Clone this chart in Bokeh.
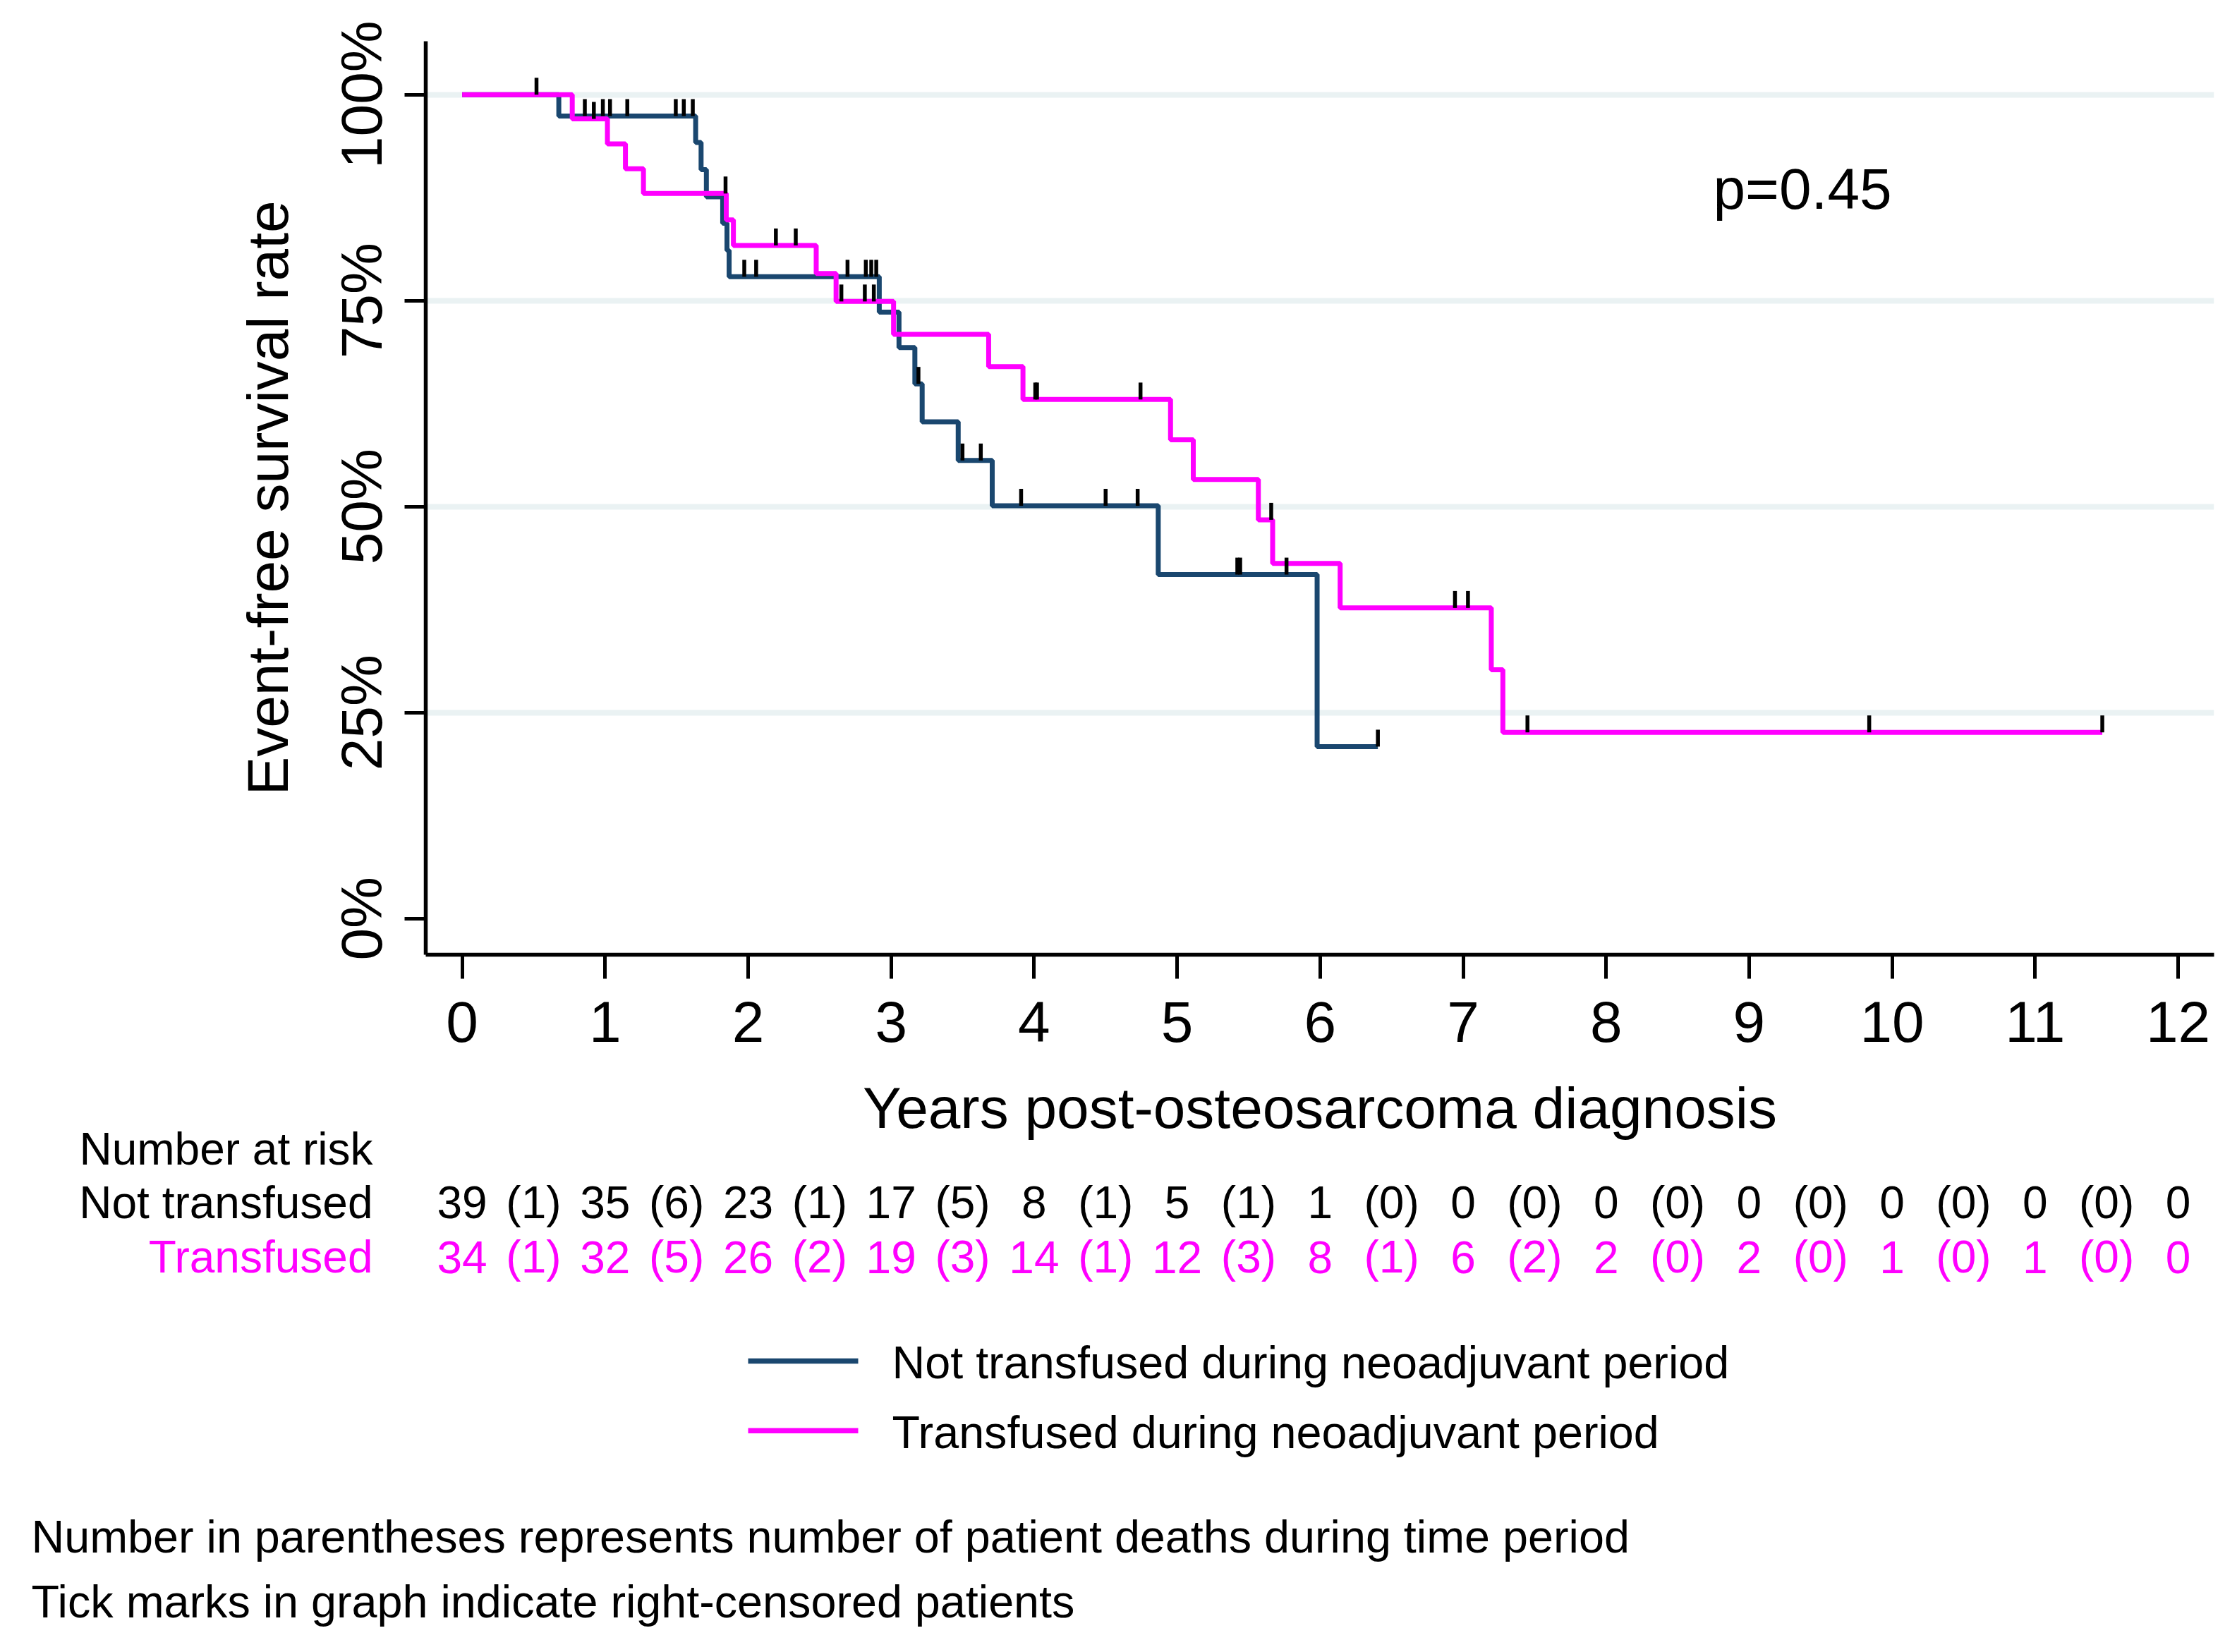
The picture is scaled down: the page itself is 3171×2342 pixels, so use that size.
from bokeh.plotting import figure
from bokeh.models import Range1d, FixedTicker, NumeralTickFormatter
from bokeh.core.properties import value
from bokeh.embed import file_html
from bokeh.resources import INLINE

# ---------------- data ----------------
years = list(range(13))
half_years = [i + 0.5 for i in range(12)]

not_tx_at_risk = [39, 35, 23, 17, 8, 5, 1, 0, 0, 0, 0, 0, 0]
not_tx_deaths = [1, 6, 1, 5, 1, 1, 0, 0, 0, 0, 0, 0]
tx_at_risk = [34, 32, 26, 19, 14, 12, 8, 6, 2, 2, 1, 1, 0]
tx_deaths = [1, 5, 2, 3, 1, 3, 1, 2, 0, 0, 0, 0]

not_tx_time = [0, 0.676, 1.633, 1.671, 1.708, 1.822, 1.852, 1.867, 2.917, 3.055,
               3.166, 3.217, 3.469, 3.707, 4.868, 5.979, 6.404]
not_tx_surv = [1.0, 0.974, 0.942, 0.909, 0.876, 0.844, 0.811, 0.779, 0.736, 0.693,
               0.649, 0.603, 0.556, 0.501, 0.4175, 0.2087, 0.2087]

tx_time = [0, 0.770, 1.016, 1.142, 1.268, 1.847, 1.897, 2.476, 2.615, 3.017,
           3.682, 3.922, 4.954, 5.113, 5.568, 5.668, 6.140, 7.197, 7.278, 11.47]
tx_surv = [1.0, 0.9706, 0.9403, 0.910, 0.880, 0.848, 0.817, 0.783, 0.749, 0.709,
           0.670, 0.630, 0.581, 0.533, 0.484, 0.431, 0.377, 0.302, 0.226, 0.226]

not_tx_cens_time = [0.52, 0.858, 0.984, 1.034, 1.155, 1.494, 1.550, 1.613,
                    1.973, 2.056, 2.695, 2.823, 2.861, 2.896, 3.191, 3.499, 3.627,
                    3.909, 4.500, 4.724, 5.421, 5.441, 5.765, 6.404]
not_tx_cens_surv = [1.0, 0.974, 0.974, 0.974, 0.974, 0.974, 0.974, 0.974,
                    0.779, 0.779, 0.779, 0.779, 0.779, 0.779, 0.649, 0.556, 0.556,
                    0.501, 0.501, 0.501, 0.4175, 0.4175, 0.4175, 0.2087]

tx_cens_time = [0.921, 1.842, 2.194, 2.333, 2.652, 2.816, 2.879, 4.008, 4.020,
                4.744, 5.658, 6.943, 7.034, 7.450, 9.84, 11.47]
tx_cens_surv = [0.9706, 0.880, 0.817, 0.817, 0.749, 0.749, 0.749, 0.630, 0.630,
                0.630, 0.484, 0.377, 0.377, 0.226, 0.226, 0.226]

y_ticks = [0, 0.25, 0.5, 0.75, 1.0]
grid_ticks = [0.25, 0.5, 0.75, 1.0]
p_value_text = "p=0.45"
x_title = "Years post-osteosarcoma diagnosis"
y_title = "Event-free survival rate"

series_labels = ["Not transfused", "Transfused"]
legend_labels = ["Not transfused during neoadjuvant period",
                 "Transfused during neoadjuvant period"]
notes = ["Number in parentheses represents number of patient deaths during time period",
         "Tick marks in graph indicate right-censored patients"]

# ---------------- styles / layout (page pixels) ----------------
NAVY = "#1A476F"
MAGENTA = "#FF00FF"
GRID = "#EAF2F3"
FONT = value("Liberation Sans")
W = 3160
H1 = 1525
H2 = 805
X0_PX = 654.6        # page px of year 0
PPY = 202.7          # px per year
FRAME_L, FRAME_R = 603, 3138
Y_LO, Y_HI = -0.0439, 1.0648
FRAME_T, FRAME_B = 58, 1353
MID = 0.35           # baseline -> text middle, in em


def px2yr(px):
    return (px - X0_PX) / PPY


def py2s(py):
    return 1 - (py - 133.7) / 1168.0


p = figure(width=W, height=H1, output_backend="svg", toolbar_location=None, title=None,
           x_range=Range1d(px2yr(FRAME_L), px2yr(FRAME_R)),
           y_range=Range1d(Y_LO, Y_HI),
           min_border_left=FRAME_L, min_border_right=W - FRAME_R,
           min_border_top=FRAME_T, min_border_bottom=H1 - FRAME_B)
p.outline_line_color = None
p.background_fill_color = "white"
p.border_fill_color = "white"

# grid
p.xgrid.grid_line_color = None
p.ygrid.ticker = FixedTicker(ticks=grid_ticks)
p.ygrid.grid_line_color = GRID
p.ygrid.grid_line_width = 8

# axes
for ax in (p.xaxis, p.yaxis):
    ax.axis_line_width = 5.5
    ax.axis_line_color = "black"
    ax.major_tick_line_width = 5
    ax.major_tick_line_color = "black"
    ax.major_tick_in = 0
    ax.minor_tick_line_color = None
    ax.major_label_text_font = "Liberation Sans"
    ax.major_label_text_font_size = "82px"
    ax.major_label_text_color = "black"
    ax.axis_label_text_font = "Liberation Sans"
    ax.axis_label_text_font_size = "82px"
    ax.axis_label_text_font_style = "normal"
    ax.axis_label_text_color = "black"

p.xaxis.ticker = FixedTicker(ticks=years)
p.xaxis.major_tick_out = 34
p.xaxis.major_label_standoff = 32

p.yaxis.ticker = FixedTicker(ticks=y_ticks)
p.yaxis.formatter = NumeralTickFormatter(format="0%")
p.yaxis.major_label_orientation = "vertical"
p.yaxis.major_tick_out = 30
p.yaxis.major_label_standoff = 15
p.yaxis.axis_label = y_title
p.yaxis.axis_label_standoff = 40

# curves
p.step(not_tx_time, not_tx_surv, mode="after", line_color=NAVY, line_width=7)
p.step(tx_time, tx_surv, mode="after", line_color=MAGENTA, line_width=7)

# censor ticks (24 px tall, drawn upward from the curve)
tick_h = 24 * (Y_HI - Y_LO) / (FRAME_B - FRAME_T)
for ct, cs in ((not_tx_cens_time, not_tx_cens_surv), (tx_cens_time, tx_cens_surv)):
    p.segment(x0=ct, y0=cs, x1=ct, y1=[s + tick_h for s in cs],
              line_color="black", line_width=5.5, line_cap="butt")

# p-value
p.text(x=[px2yr(2428)], y=[py2s(295.7 - MID * 82)], text=[p_value_text],
       text_font=FONT, text_font_size="82px", text_color="black",
       text_align="left", text_baseline="middle")

# ---------------- lower panel: x title, risk table, legend, notes ----------------
q = figure(width=W, height=H2, output_backend="svg", toolbar_location=None, title=None,
           x_axis_type=None, y_axis_type=None,
           x_range=Range1d(px2yr(0), px2yr(W)),
           y_range=Range1d(H1 + H2, H1),
           min_border_left=0, min_border_right=0, min_border_top=0, min_border_bottom=0)
q.grid.visible = False
q.outline_line_color = None
q.background_fill_color = "white"
q.border_fill_color = "white"

# x-axis title (centred under the axis)
q.text(x=[px2yr((FRAME_L + FRAME_R) / 2)], y=[1570], text=[x_title],
       text_color="black", text_font=FONT, text_font_size="82px",
       text_align="center", text_baseline="middle")

FS = 64
TS = f"{FS}px"
OFF = MID * FS
ROW1_Y, ROW2_Y = 1726.7 - OFF, 1804.0 - OFF

q.text(x=[px2yr(528)] * 3, y=[1650.7 - OFF, ROW1_Y, ROW2_Y],
       text=["Number at risk"] + series_labels,
       text_color=["black", "black", MAGENTA],
       text_font=FONT, text_font_size=TS, text_align="right", text_baseline="middle")

q.text(x=years, y=[ROW1_Y] * len(years), text=[str(v) for v in not_tx_at_risk],
       text_color="black", text_font=FONT, text_font_size=TS,
       text_align="center", text_baseline="middle")
q.text(x=half_years, y=[ROW1_Y] * len(half_years), text=[f"({v})" for v in not_tx_deaths],
       text_color="black", text_font=FONT, text_font_size=TS,
       text_align="center", text_baseline="middle")
q.text(x=years, y=[ROW2_Y] * len(years), text=[str(v) for v in tx_at_risk],
       text_color=MAGENTA, text_font=FONT, text_font_size=TS,
       text_align="center", text_baseline="middle")
q.text(x=half_years, y=[ROW2_Y] * len(half_years), text=[f"({v})" for v in tx_deaths],
       text_color=MAGENTA, text_font=FONT, text_font_size=TS,
       text_align="center", text_baseline="middle")

# legend
FS2 = 64.7
OFF2 = MID * FS2
for ly, col in ((1929, NAVY), (2027.7, MAGENTA)):
    q.line([px2yr(1060), px2yr(1216)], [ly, ly], line_color=col, line_width=7.5)
q.text(x=[px2yr(1264)] * 2, y=[1953.3 - OFF2, 2052.7 - OFF2], text=legend_labels,
       text_color="black", text_font=FONT, text_font_size=f"{FS2}px",
       text_align="left", text_baseline="middle")

# notes
q.text(x=[px2yr(44)] * 2, y=[2200.7 - OFF2, 2292.7 - OFF2], text=notes,
       text_color="black", text_font=FONT, text_font_size=f"{FS2}px",
       text_align="left", text_baseline="middle")

open("out.html", "w").write(file_html([p, q], INLINE))
